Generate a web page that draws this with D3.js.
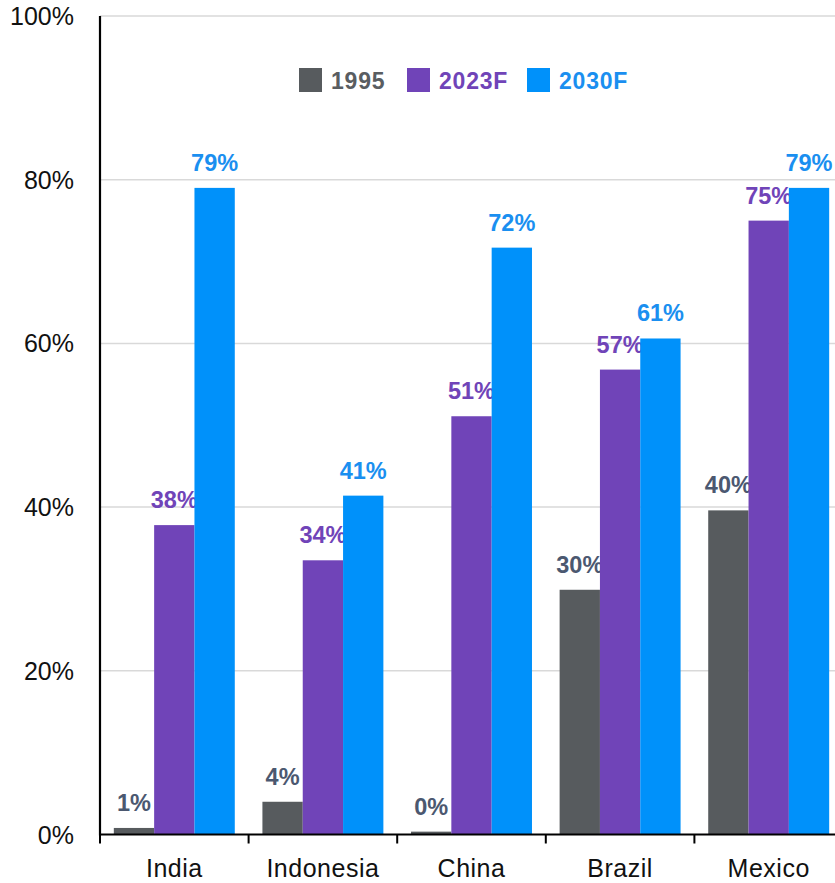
<!DOCTYPE html>
<html>
<head>
<meta charset="utf-8">
<script src="https://cdn.jsdelivr.net/npm/d3@7"></script>
<style>
  html, body { margin: 0; padding: 0; background: #fff; }
  svg { display: block; font-family: "Liberation Sans", Arial, sans-serif; }
</style>
</head>
<body>
<svg id="chart" width="835" height="883"></svg>
<script>
const categories = ["India", "Indonesia", "China", "Brazil", "Mexico"];
const seriesNames = ["1995", "2023F", "2030F"];
const values1995 = [0.8, 4.0, 0.35, 29.9, 39.6];
const values2023 = [37.8, 33.5, 51.1, 56.8, 75.0];
const values2030 = [79.0, 41.4, 71.7, 60.6, 79.0];
const labels1995 = ["1%", "4%", "0%", "30%", "40%"];
const labels2023 = ["38%", "34%", "51%", "57%", "75%"];
const labels2030 = ["79%", "41%", "72%", "61%", "79%"];
const yTicks = [0, 20, 40, 60, 80, 100];

const barColors = ["#575b5e", "#7044b8", "#0091fa"];
const labelColors = ["#4b5870", "#7044b8", "#1a8ff0"];
const legendTextColors = ["#595d61", "#7044b8", "#1a8ff0"];

const seriesValues = [values1995, values2023, values2030];
const seriesLabels = [labels1995, labels2023, labels2030];

(function () {
const svg = d3.select("#chart");
const mLeft = 100, mTop = 16, mBottom = 834.5;
const step = 148.6;
const mRight = mLeft + step * categories.length;

const x = d3.scaleBand().domain(categories).range([mLeft, mRight])
  .paddingInner(0.186).paddingOuter(0.093);
const xs = d3.scaleBand().domain(seriesNames).range([0, x.bandwidth()]).padding(0);
const y = d3.scaleLinear().domain([0, 100]).range([mBottom, mTop]);

// gridlines
svg.append("g").selectAll("line").data(yTicks.filter(d => d > 0)).join("line")
  .attr("x1", mLeft).attr("x2", 835)
  .attr("y1", d => y(d)).attr("y2", d => y(d))
  .attr("stroke", "#d9d9d9").attr("stroke-width", 1.5);

// y tick labels
svg.append("g").selectAll("text").data(yTicks).join("text")
  .attr("x", 74).attr("y", d => y(d) + 9)
  .attr("text-anchor", "end")
  .attr("font-size", 25).attr("fill", "#111")
  .text(d => d + "%");

// bars and labels per series
seriesNames.forEach((s, si) => {
  const g = svg.append("g");
  g.selectAll("rect").data(categories).join("rect")
    .attr("x", c => x(c) + xs(s))
    .attr("width", xs.bandwidth())
    .attr("y", (c, i) => y(seriesValues[si][i]))
    .attr("height", (c, i) => y(0) - y(seriesValues[si][i]))
    .attr("fill", barColors[si]);
  g.selectAll("text").data(categories).join("text")
    .attr("x", c => x(c) + xs(s) + xs.bandwidth() / 2)
    .attr("y", (c, i) => y(seriesValues[si][i]) - 17)
    .attr("text-anchor", "middle")
    .attr("font-size", 23.5).attr("font-weight", "bold")
    .attr("fill", labelColors[si])
    .text((c, i) => seriesLabels[si][i]);
});

// y axis line
svg.append("line").attr("x1", mLeft).attr("x2", mLeft)
  .attr("y1", mTop).attr("y2", mBottom + 1)
  .attr("stroke", "#000").attr("stroke-width", 2.2);

// x axis
const xAxis = svg.append("g");
xAxis.append("line").attr("x1", mLeft - 1).attr("x2", 835)
  .attr("y1", mBottom).attr("y2", mBottom)
  .attr("stroke", "#000").attr("stroke-width", 2.2);
xAxis.selectAll("line.tick").data(d3.range(categories.length + 1)).join("line")
  .attr("class", "tick")
  .attr("x1", i => mLeft + i * x.step()).attr("x2", i => mLeft + i * x.step())
  .attr("y1", mBottom).attr("y2", mBottom + 9)
  .attr("stroke", "#000").attr("stroke-width", 2);
xAxis.selectAll("text").data(categories).join("text")
  .attr("x", c => x(c) + x.bandwidth() / 2)
  .attr("y", 877)
  .attr("text-anchor", "middle")
  .attr("font-size", 25).attr("fill", "#111")
  .attr("letter-spacing", 0.5)
  .text(c => c);

// legend
const legendX = [299, 407, 527];
const legend = svg.append("g");
seriesNames.forEach((s, si) => {
  legend.append("rect").attr("x", legendX[si]).attr("y", 68)
    .attr("width", 23).attr("height", 24).attr("fill", barColors[si]);
  legend.append("text").attr("x", legendX[si] + 32).attr("y", 88.5)
    .attr("font-size", 23).attr("font-weight", "bold")
    .attr("letter-spacing", 0.8)
    .attr("fill", legendTextColors[si]).text(s);
});
})();
</script>
</body>
</html>
